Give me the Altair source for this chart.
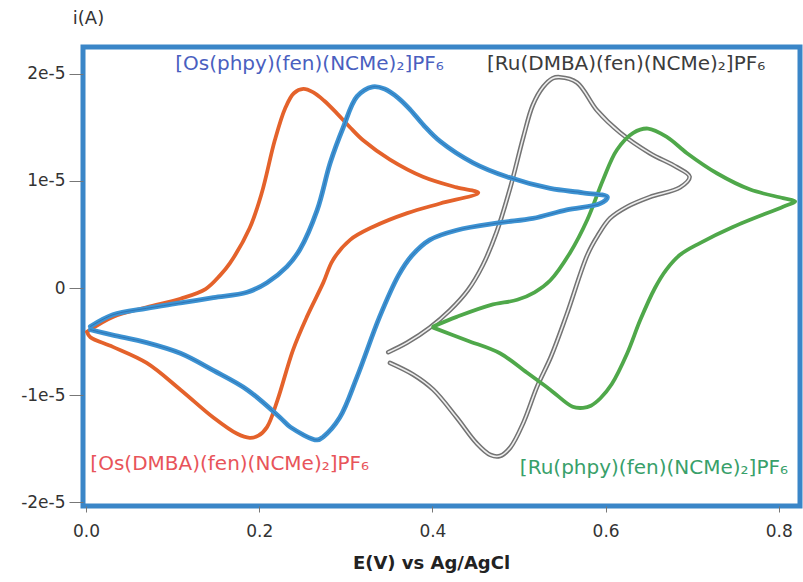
import altair as alt
import pandas as pd

# Potentials E (V vs Ag/AgCl) and currents i (in units of 1e-5 A)
os_dmba_E = [0.001, 0.031, 0.070, 0.109, 0.138, 0.155, 0.166, 0.189, 0.203, 0.218, 0.230, 0.240, 0.251,
             0.262, 0.275, 0.290, 0.305, 0.320, 0.351, 0.389, 0.428, 0.453,
             0.409, 0.371, 0.331, 0.305, 0.285, 0.274, 0.255, 0.239, 0.221, 0.209, 0.199, 0.189, 0.174,
             0.147, 0.109, 0.070, 0.031, 0.005, 0.001]
os_dmba_i = [-0.41, -0.27, -0.18, -0.10, -0.01, 0.12, 0.23, 0.56, 0.89, 1.38, 1.68, 1.82, 1.86,
             1.83, 1.75, 1.63, 1.50, 1.38, 1.20, 1.04, 0.94, 0.89,
             0.79, 0.70, 0.57, 0.45, 0.26, 0.05, -0.27, -0.58, -1.05, -1.30, -1.38, -1.40, -1.36,
             -1.21, -0.95, -0.70, -0.55, -0.46, -0.41]

os_phpy_E = [0.005, 0.031, 0.070, 0.109, 0.147, 0.186, 0.209, 0.232, 0.247, 0.267, 0.282, 0.297, 0.313, 0.331,
             0.345, 0.360, 0.374, 0.390, 0.409, 0.447, 0.486, 0.536, 0.574, 0.602,
             0.594, 0.555, 0.516, 0.478, 0.428, 0.397, 0.376, 0.361, 0.339, 0.313, 0.293, 0.274, 0.267,
             0.236, 0.224, 0.186, 0.147, 0.109, 0.070, 0.031, 0.005]
os_phpy_i = [-0.36, -0.25, -0.19, -0.14, -0.09, -0.04, 0.05, 0.20, 0.36, 0.73, 1.17, 1.50, 1.79, 1.88,
             1.86, 1.78, 1.67, 1.52, 1.37, 1.17, 1.04, 0.93, 0.89, 0.85,
             0.79, 0.73, 0.65, 0.61, 0.54, 0.45, 0.30, 0.12, -0.27, -0.83, -1.21, -1.39, -1.42,
             -1.30, -1.21, -0.95, -0.77, -0.61, -0.51, -0.44, -0.39]

ru_dmba_E = [0.349, 0.371, 0.397, 0.420, 0.441, 0.458, 0.474, 0.490, 0.505, 0.516, 0.528, 0.539, 0.547,
             0.567, 0.590, 0.617, 0.651, 0.682, 0.697,
             0.686, 0.651, 0.625, 0.605, 0.591, 0.579, 0.555, 0.537, 0.521, 0.505, 0.490, 0.478,
             0.467, 0.451, 0.428, 0.401, 0.378, 0.351]
ru_dmba_i = [-0.60, -0.51, -0.37, -0.21, -0.02, 0.21, 0.52, 0.94, 1.41, 1.71, 1.88, 1.96, 1.97,
             1.92, 1.66, 1.45, 1.26, 1.13, 1.04,
             0.94, 0.85, 0.76, 0.65, 0.49, 0.31, -0.25, -0.64, -0.92, -1.26, -1.49, -1.57,
             -1.56, -1.45, -1.21, -0.95, -0.81, -0.70]

ru_phpy_E = [0.401, 0.428, 0.467, 0.498, 0.518, 0.536, 0.559, 0.579, 0.597, 0.613, 0.632, 0.649,
             0.671, 0.694, 0.729, 0.767, 0.805, 0.819,
             0.805, 0.747, 0.709, 0.686, 0.670, 0.657, 0.640, 0.625, 0.607, 0.594, 0.583, 0.574,
             0.562, 0.536, 0.509, 0.478, 0.440, 0.401]
ru_phpy_i = [-0.36, -0.27, -0.16, -0.11, -0.04, 0.07, 0.33, 0.64, 1.01, 1.29, 1.45, 1.49,
             1.41, 1.26, 1.07, 0.92, 0.84, 0.81,
             0.76, 0.57, 0.42, 0.31, 0.17, 0.00, -0.30, -0.61, -0.90, -1.03, -1.10, -1.12,
             -1.11, -0.95, -0.79, -0.61, -0.49, -0.37]

CURRENT_UNIT = 1e-5

# Compound labels: text, left E, centre i (1e-5 A), colour
label_text = ["[Os(phpy)(fen)(NCMe)₂]PF₆", "[Ru(DMBA)(fen)(NCMe)₂]PF₆",
              "[Os(DMBA)(fen)(NCMe)₂]PF₆", "[Ru(phpy)(fen)(NCMe)₂]PF₆"]
label_E = [0.103, 0.463, 0.005, 0.501]
label_i = [2.09, 2.09, -1.64, -1.68]
label_color = ["#4a5fbf", "#3c3c3c", "#e8545a", "#38a06a"]

x_ticks = [0.0, 0.2, 0.4, 0.6, 0.8]
y_ticks = [-2e-5, -1e-5, 0, 1e-5, 2e-5]
y_tick_labels = ["-2e-5", "-1e-5", "0", "1e-5", "2e-5"]


def curve(E, i):
    return pd.DataFrame({"E": E, "i": [v * CURRENT_UNIT for v in i], "k": list(range(len(E)))})


y_label_expr = " : ".join(
    f"abs(datum.value - ({v})) < 1e-9 ? '{t}'" for v, t in zip(y_ticks, y_tick_labels)
) + " : ''"

xs = alt.Scale(domain=[-0.0035, 0.8245], nice=False, zero=False)
ys = alt.Scale(domain=[-2.037e-5, 2.252e-5], nice=False, zero=False)

x_enc = alt.X("E:Q", scale=xs, axis=alt.Axis(
    values=x_ticks, format=".1f", title="E(V) vs Ag/AgCl", grid=False, domain=False,
    tickSize=6, tickColor="#777", labelPadding=11, labelFont="DejaVu Sans", labelFontSize=17,
    labelColor="#333", titleFont="DejaVu Sans", titleFontWeight="bold", titleFontSize=18,
    titleColor="#222", titleX=348, titleY=57, titleAlign="center", titleBaseline="middle"))
y_enc = alt.Y("i:Q", scale=ys, axis=alt.Axis(
    values=y_ticks, labelExpr=y_label_expr, title="i(A)", grid=False, domain=False,
    tickSize=14, tickColor="#777", labelPadding=4, labelFont="DejaVu Sans", labelFontSize=17,
    labelColor="#333", titleFont="DejaVu Sans", titleFontWeight="normal", titleFontSize=18,
    titleColor="#333", titleAngle=0, titleX=5, titleY=-29, titleAlign="center",
    titleBaseline="middle"))


def line(df, color, width):
    return alt.Chart(df).mark_line(color=color, strokeWidth=width, interpolate="catmull-rom",
                                   strokeCap="round", strokeJoin="round").encode(
        x=x_enc, y=y_enc, order=alt.Order("k:Q"))


d_os_dmba = curve(os_dmba_E, os_dmba_i)
d_os_phpy = curve(os_phpy_E, os_phpy_i)
d_ru_dmba = curve(ru_dmba_E, ru_dmba_i)
d_ru_phpy = curve(ru_phpy_E, ru_phpy_i)

labels = pd.DataFrame({"t": label_text, "E": label_E, "i": [v * CURRENT_UNIT for v in label_i],
                       "c": label_color})
text = alt.Chart(labels).mark_text(align="left", baseline="middle", font="DejaVu Sans",
                                   fontSize=20).encode(
    x=x_enc, y=y_enc, text="t:N", color=alt.Color("c:N", scale=None))

chart = alt.layer(
    line(d_ru_dmba, "#737373", 4.6),
    line(d_ru_dmba, "#eeeeee", 1.6),
    line(d_ru_phpy, "#4fa84a", 3.8),
    line(d_os_dmba, "#e4622b", 3.8),
    line(d_os_phpy, "#3d93d3", 4.8),
    line(d_os_phpy, "#2f74b4", 1.0),
    text,
).properties(
    width=717, height=459,
    autosize=alt.AutoSizeParams(type="none"),
    padding={"left": 83, "top": 47, "right": 3, "bottom": 76},
    background="white",
).configure_view(stroke="#3a86c8", strokeWidth=5)

chart.save("out.html", embed_options={"renderer": "svg", "actions": False})
